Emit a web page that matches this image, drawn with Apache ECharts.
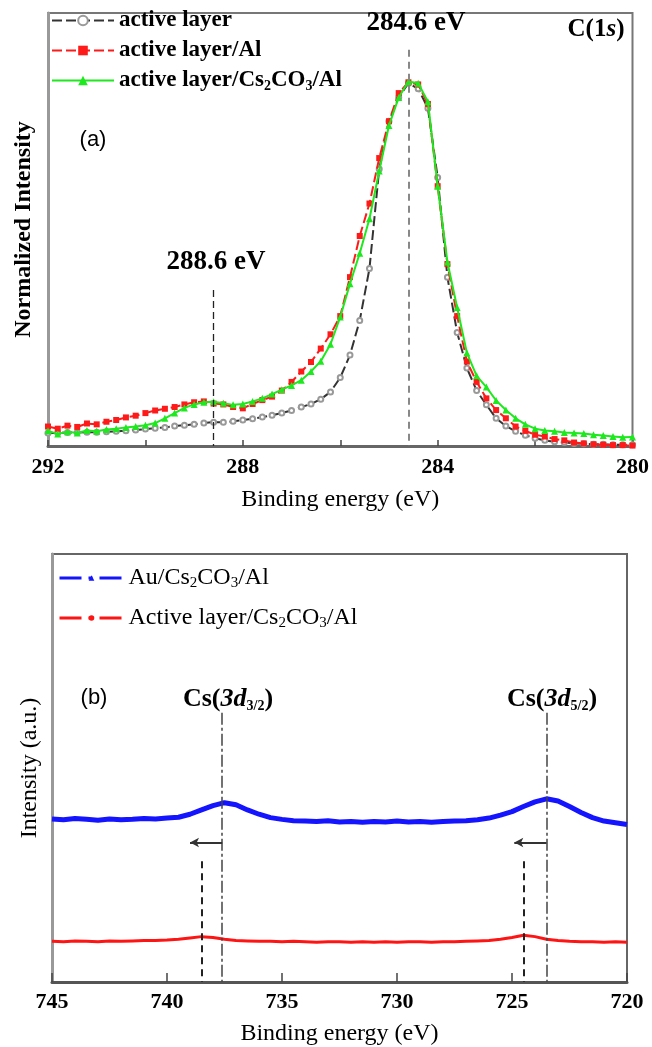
<!DOCTYPE html>
<html>
<head>
<meta charset="UTF-8">
<title>XPS C(1s) / Cs(3d)</title>
<script src="https://cdn.jsdelivr.net/npm/echarts@6/dist/echarts.min.js"></script>
<style>
    html, body { margin: 0; padding: 0; background: #fff; }
    #main { width: 652px; height: 1047px; }
</style>
</head>
<body>
<div id="main"></div>
<script>
    // ---- panel (a): C(1s), normalized ----
    var energyA = [292.0, 291.8, 291.6, 291.4, 291.2, 291.0, 290.8, 290.6, 290.4, 290.2,
        290.0, 289.8, 289.6, 289.4, 289.2, 289.0, 288.8, 288.6, 288.4, 288.2,
        288.0, 287.8, 287.6, 287.4, 287.2, 287.0, 286.8, 286.6, 286.4, 286.2,
        286.0, 285.8, 285.6, 285.4, 285.2, 285.0, 284.8, 284.6, 284.4, 284.2,
        284.0, 283.8, 283.6, 283.4, 283.2, 283.0, 282.8, 282.6, 282.4, 282.2,
        282.0, 281.8, 281.6, 281.4, 281.2, 281.0, 280.8, 280.6, 280.4, 280.2, 280.0];
    var activeLayer = [0.030, 0.030, 0.031, 0.031, 0.032, 0.032, 0.033, 0.034, 0.035, 0.037,
        0.039, 0.041, 0.043, 0.046, 0.048, 0.050, 0.053, 0.055, 0.055, 0.057,
        0.060, 0.063, 0.067, 0.071, 0.076, 0.082, 0.090, 0.097, 0.108, 0.125,
        0.158, 0.210, 0.290, 0.410, 0.640, 0.750, 0.805, 0.838, 0.825, 0.780,
        0.620, 0.390, 0.262, 0.180, 0.128, 0.095, 0.064, 0.046, 0.034, 0.025,
        0.018, 0.013, 0.010, 0.008, 0.006, 0.005, 0.004, 0.004, 0.003, 0.003, 0.003];
    var activeLayerAl = [0.045, 0.040, 0.047, 0.044, 0.052, 0.050, 0.056, 0.060, 0.066, 0.070,
        0.076, 0.082, 0.086, 0.090, 0.096, 0.101, 0.103, 0.098, 0.096, 0.090,
        0.087, 0.097, 0.106, 0.114, 0.128, 0.148, 0.172, 0.194, 0.225, 0.258,
        0.300, 0.390, 0.485, 0.560, 0.665, 0.750, 0.815, 0.840, 0.835, 0.790,
        0.600, 0.420, 0.300, 0.195, 0.148, 0.110, 0.083, 0.064, 0.045, 0.035,
        0.026, 0.022, 0.016, 0.013, 0.008, 0.006, 0.004, 0.003, 0.002, 0.002, 0.001];
    var activeLayerCsAl = [0.035, 0.028, 0.033, 0.030, 0.036, 0.034, 0.038, 0.040, 0.043, 0.045,
        0.048, 0.053, 0.064, 0.076, 0.088, 0.096, 0.101, 0.102, 0.099, 0.095,
        0.097, 0.103, 0.110, 0.120, 0.130, 0.140, 0.152, 0.172, 0.196, 0.235,
        0.298, 0.375, 0.445, 0.525, 0.635, 0.740, 0.805, 0.842, 0.838, 0.795,
        0.600, 0.425, 0.320, 0.215, 0.162, 0.136, 0.105, 0.083, 0.064, 0.050,
        0.040, 0.036, 0.034, 0.031, 0.030, 0.029, 0.026, 0.024, 0.022, 0.020, 0.021];
    var ticksA = [292, 288, 284, 280];

    // ---- panel (b): Cs(3d) ----
    var energyB = [745.0, 744.5, 744.0, 743.5, 743.0, 742.5, 742.0, 741.5, 741.0, 740.5,
        740.0, 739.5, 739.0, 738.5, 738.0, 737.5, 737.0, 736.5, 736.0, 735.5,
        735.0, 734.5, 734.0, 733.5, 733.0, 732.5, 732.0, 731.5, 731.0, 730.5,
        730.0, 729.5, 729.0, 728.5, 728.0, 727.5, 727.0, 726.5, 726.0, 725.5,
        725.0, 724.5, 724.0, 723.5, 723.0, 722.5, 722.0, 721.5, 721.0, 720.5, 720.0];
    var auCsAl = [0.381, 0.379, 0.382, 0.380, 0.378, 0.381, 0.379, 0.380, 0.382, 0.381,
        0.383, 0.385, 0.392, 0.402, 0.412, 0.419, 0.414, 0.402, 0.392, 0.384,
        0.380, 0.377, 0.376, 0.375, 0.377, 0.374, 0.375, 0.373, 0.375, 0.374,
        0.376, 0.374, 0.375, 0.373, 0.375, 0.376, 0.377, 0.379, 0.383, 0.390,
        0.398, 0.410, 0.421, 0.428, 0.423, 0.410, 0.396, 0.384, 0.376, 0.372, 0.368];
    var activeCsAl = [0.095, 0.094, 0.096, 0.095, 0.094, 0.096, 0.095, 0.096, 0.097, 0.097,
        0.098, 0.100, 0.103, 0.106, 0.104, 0.100, 0.097, 0.096, 0.095, 0.095,
        0.094, 0.095, 0.094, 0.093, 0.094, 0.094, 0.093, 0.094, 0.093, 0.094,
        0.093, 0.094, 0.094, 0.093, 0.094, 0.094, 0.095, 0.096, 0.097, 0.100,
        0.104, 0.109, 0.106, 0.100, 0.097, 0.095, 0.094, 0.094, 0.093, 0.094, 0.093];
    var ticksB = [745, 740, 735, 730, 725, 720];
    var peaksAu = [737.6, 723.5];      // dash-dot lines
    var peaksActive = [738.5, 724.5];  // dashed lines
    var arrowEnds = [739.0, 724.9];

    function pairs(xs, ys) {
        var out = [];
        for (var i = 0; i < xs.length; i++) out.push([xs[i], ys[i]]);
        return out;
    }

    var serif = "'Liberation Serif', 'Times New Roman', serif";
    var sans = "'Liberation Sans', Arial, sans-serif";

    var legendNames = {
        'active layer': '{n|active layer}',
        'active layer/Al': '{n|active layer/Al}',
        'active layer/Cs2CO3/Al': '{n|active layer/Cs}{s|2}{n|CO}{s|3}{n|/Al}',
        'Au/Cs2CO3/Al': '{n|Au/Cs}{s|2}{n|CO}{s|3}{n|/Al}',
        'Active layer/Cs2CO3/Al': '{n|Active layer/Cs}{s|2}{n|CO}{s|3}{n|/Al}'
    };

    var myChart = echarts.init(document.getElementById('main'));
    var option = {
        animation: false,
        backgroundColor: '#fff',
        grid: [
            {left: 48, top: 13, width: 585, height: 433, show: true, borderColor: '#777', borderWidth: 2},
            {left: 52, top: 554, width: 575, height: 429, show: true, borderColor: '#666', borderWidth: 2}
        ],
        legend: [
            {
                data: ['active layer', 'active layer/Al', 'active layer/Cs2CO3/Al'],
                orient: 'vertical', left: 51, top: 9, padding: 0,
                itemWidth: 62, itemHeight: 12, itemGap: 7,
                formatter: function (name) { return legendNames[name]; },
                textStyle: {
                    color: '#000', fontFamily: serif, fontWeight: 'bold', fontSize: 23,
                    rich: {
                        n: {fontFamily: serif, fontWeight: 'bold', fontSize: 23, lineHeight: 26, color: '#000'},
                        s: {fontFamily: serif, fontWeight: 'bold', fontSize: 14, lineHeight: 12, verticalAlign: 'bottom', color: '#000'}
                    }
                }
            },
            {
                data: ['Au/Cs2CO3/Al', 'Active layer/Cs2CO3/Al'],
                orient: 'vertical', left: 58, top: 566, padding: 0,
                itemWidth: 64, itemHeight: 7, itemGap: 15,
                lineStyle: {width: 3, type: [22, 7, 4, 7]},
                formatter: function (name) { return legendNames[name]; },
                textStyle: {
                    color: '#000', fontFamily: serif, fontSize: 24,
                    rich: {
                        n: {fontFamily: serif, fontSize: 24, lineHeight: 26, color: '#000'},
                        s: {fontFamily: serif, fontSize: 15, lineHeight: 12, verticalAlign: 'bottom', color: '#000'}
                    }
                }
            }
        ],
        xAxis: [
            {
                gridIndex: 0, type: 'value', inverse: true, min: 280, max: 292, interval: 2,
                name: 'Binding energy (eV)', nameLocation: 'middle', nameGap: 42,
                nameTextStyle: {fontFamily: serif, fontSize: 24, color: '#000'},
                axisLine: {lineStyle: {color: '#666', width: 3}},
                axisTick: {inside: true, length: 6, lineStyle: {color: '#444', width: 1.5}},
                axisLabel: {
                    margin: 10, color: '#000', fontFamily: serif, fontWeight: 'bold', fontSize: 22,
                    formatter: function (v) { return ticksA.indexOf(v) > -1 ? String(v) : ''; }
                },
                splitLine: {show: false}
            },
            {
                gridIndex: 1, type: 'value', inverse: true, min: 720, max: 745, interval: 5,
                name: 'Binding energy (eV)', nameLocation: 'middle', nameGap: 40,
                nameTextStyle: {fontFamily: serif, fontSize: 24, color: '#000'},
                axisLine: {lineStyle: {color: '#555', width: 3}},
                axisTick: {inside: true, length: 9, lineStyle: {color: '#444', width: 1.5}},
                axisLabel: {
                    margin: 9, color: '#000', fontFamily: serif, fontWeight: 'bold', fontSize: 22,
                    formatter: function (v) { return ticksB.indexOf(v) > -1 ? String(v) : ''; }
                },
                splitLine: {show: false}
            }
        ],
        yAxis: [
            {
                gridIndex: 0, type: 'value', min: 0, max: 1,
                name: 'Normalized Intensity', nameLocation: 'middle', nameGap: 12,
                nameTextStyle: {fontFamily: serif, fontWeight: 'bold', fontSize: 24, color: '#000'},
                axisLine: {show: true, lineStyle: {color: '#999', width: 3}},
                axisTick: {show: false}, axisLabel: {show: false}, splitLine: {show: false}
            },
            {
                gridIndex: 1, type: 'value', min: 0, max: 1,
                name: 'Intensity (a.u.)', nameLocation: 'middle', nameGap: 10,
                nameTextStyle: {fontFamily: serif, fontSize: 24, color: '#000'},
                axisLine: {show: true, lineStyle: {color: '#999', width: 3}},
                axisTick: {show: false}, axisLabel: {show: false}, splitLine: {show: false}
            }
        ],
        series: [
            {
                name: 'active layer', type: 'line', xAxisIndex: 0, yAxisIndex: 0,
                data: pairs(energyA, activeLayer),
                symbol: 'emptyCircle', symbolSize: 5,
                itemStyle: {color: '#999', borderWidth: 1},
                lineStyle: {color: '#333', width: 2, type: [10, 4]},
                z: 2
            },
            {
                name: 'active layer/Al', type: 'line', xAxisIndex: 0, yAxisIndex: 0,
                data: pairs(energyA, activeLayerAl),
                symbol: 'rect', symbolSize: 6,
                itemStyle: {color: '#ff1a1a'},
                lineStyle: {color: '#ff1a1a', width: 2, type: [10, 4]},
                z: 3
            },
            {
                name: 'active layer/Cs2CO3/Al', type: 'line', xAxisIndex: 0, yAxisIndex: 0,
                data: pairs(energyA, activeLayerCsAl),
                symbol: 'triangle', symbolSize: 7,
                itemStyle: {color: '#1ee81e'},
                lineStyle: {color: '#1ee81e', width: 2},
                z: 4,
                markLine: {
                    silent: true, symbol: ['none', 'none'], label: {show: false},
                    data: [
                        [{coord: [284.6, 0.915], lineStyle: {color: '#888', width: 2, type: [7, 5]}}, {coord: [284.6, 0]}],
                        [{coord: [288.6, 0.36], lineStyle: {color: '#222', width: 1.3, type: [7, 4]}}, {coord: [288.6, 0]}]
                    ]
                }
            },
            {
                name: 'Au/Cs2CO3/Al', type: 'line', xAxisIndex: 1, yAxisIndex: 1,
                data: pairs(energyB, auCsAl),
                symbol: 'triangle', showSymbol: false,
                lineStyle: {color: '#1414ff', width: 5},
                itemStyle: {color: '#1414ff'},
                markLine: {
                    silent: true, symbol: ['none', 'none'], label: {show: false},
                    data: [
                        [{coord: [peaksAu[0], 0.629], lineStyle: {color: '#444', width: 1.5, type: [12, 3, 3, 3]}}, {coord: [peaksAu[0], 0]}],
                        [{coord: [peaksAu[1], 0.629], lineStyle: {color: '#444', width: 1.5, type: [12, 3, 3, 3]}}, {coord: [peaksAu[1], 0]}],
                        [{coord: [peaksAu[0], 0.326], symbol: 'none', lineStyle: {color: '#333', width: 2, type: 'solid'}},
                            {coord: [arrowEnds[0], 0.326], symbol: 'arrow', symbolSize: [7, 9]}],
                        [{coord: [peaksAu[1], 0.326], symbol: 'none', lineStyle: {color: '#333', width: 2, type: 'solid'}},
                            {coord: [arrowEnds[1], 0.326], symbol: 'arrow', symbolSize: [7, 9]}]
                    ]
                }
            },
            {
                name: 'Active layer/Cs2CO3/Al', type: 'line', xAxisIndex: 1, yAxisIndex: 1,
                data: pairs(energyB, activeCsAl),
                symbol: 'circle', showSymbol: false,
                lineStyle: {color: '#ff1414', width: 3},
                itemStyle: {color: '#ff1414'},
                markLine: {
                    silent: true, symbol: ['none', 'none'], label: {show: false},
                    data: [
                        [{coord: [peaksActive[0], 0.282], lineStyle: {color: '#222', width: 2, type: [7, 5]}}, {coord: [peaksActive[0], 0]}],
                        [{coord: [peaksActive[1], 0.282], lineStyle: {color: '#222', width: 2, type: [7, 5]}}, {coord: [peaksActive[1], 0]}]
                    ]
                }
            }
        ],
        graphic: [
            {type: 'text', x: 416, y: 23, style: {text: '284.6 eV', font: 'bold 27px ' + serif, fill: '#000', align: 'center', verticalAlign: 'middle'}},
            {type: 'text', x: 216, y: 262, style: {text: '288.6 eV', font: 'bold 27px ' + serif, fill: '#000', align: 'center', verticalAlign: 'middle'}},
            {
                type: 'text', x: 596, y: 30,
                style: {
                    text: '{n|C(1}{i|s}{n|)}', align: 'center', verticalAlign: 'middle',
                    rich: {
                        n: {fontFamily: serif, fontWeight: 'bold', fontSize: 25, fill: '#000'},
                        i: {fontFamily: serif, fontWeight: 'bold', fontStyle: 'italic', fontSize: 25, fill: '#000'}
                    }
                }
            },
            {type: 'text', x: 93, y: 140, style: {text: '(a)', font: '22px ' + sans, fill: '#000', align: 'center', verticalAlign: 'middle'}},
            {type: 'text', x: 94, y: 698, style: {text: '(b)', font: '22px ' + sans, fill: '#000', align: 'center', verticalAlign: 'middle'}},
            {
                type: 'text', x: 228, y: 699,
                style: {
                    text: '{n|Cs(}{i|3d}{s|3/2}{n|)}', align: 'center', verticalAlign: 'middle',
                    rich: {
                        n: {fontFamily: serif, fontWeight: 'bold', fontSize: 26, lineHeight: 28, fill: '#000'},
                        i: {fontFamily: serif, fontWeight: 'bold', fontStyle: 'italic', fontSize: 26, lineHeight: 28, fill: '#000'},
                        s: {fontFamily: serif, fontWeight: 'bold', fontSize: 14, lineHeight: 12, verticalAlign: 'bottom', fill: '#000'}
                    }
                }
            },
            {
                type: 'text', x: 552, y: 699,
                style: {
                    text: '{n|Cs(}{i|3d}{s|5/2}{n|)}', align: 'center', verticalAlign: 'middle',
                    rich: {
                        n: {fontFamily: serif, fontWeight: 'bold', fontSize: 26, lineHeight: 28, fill: '#000'},
                        i: {fontFamily: serif, fontWeight: 'bold', fontStyle: 'italic', fontSize: 26, lineHeight: 28, fill: '#000'},
                        s: {fontFamily: serif, fontWeight: 'bold', fontSize: 14, lineHeight: 12, verticalAlign: 'bottom', fill: '#000'}
                    }
                }
            }
        ]
    };
    myChart.setOption(option);
</script>
</body>
</html>
